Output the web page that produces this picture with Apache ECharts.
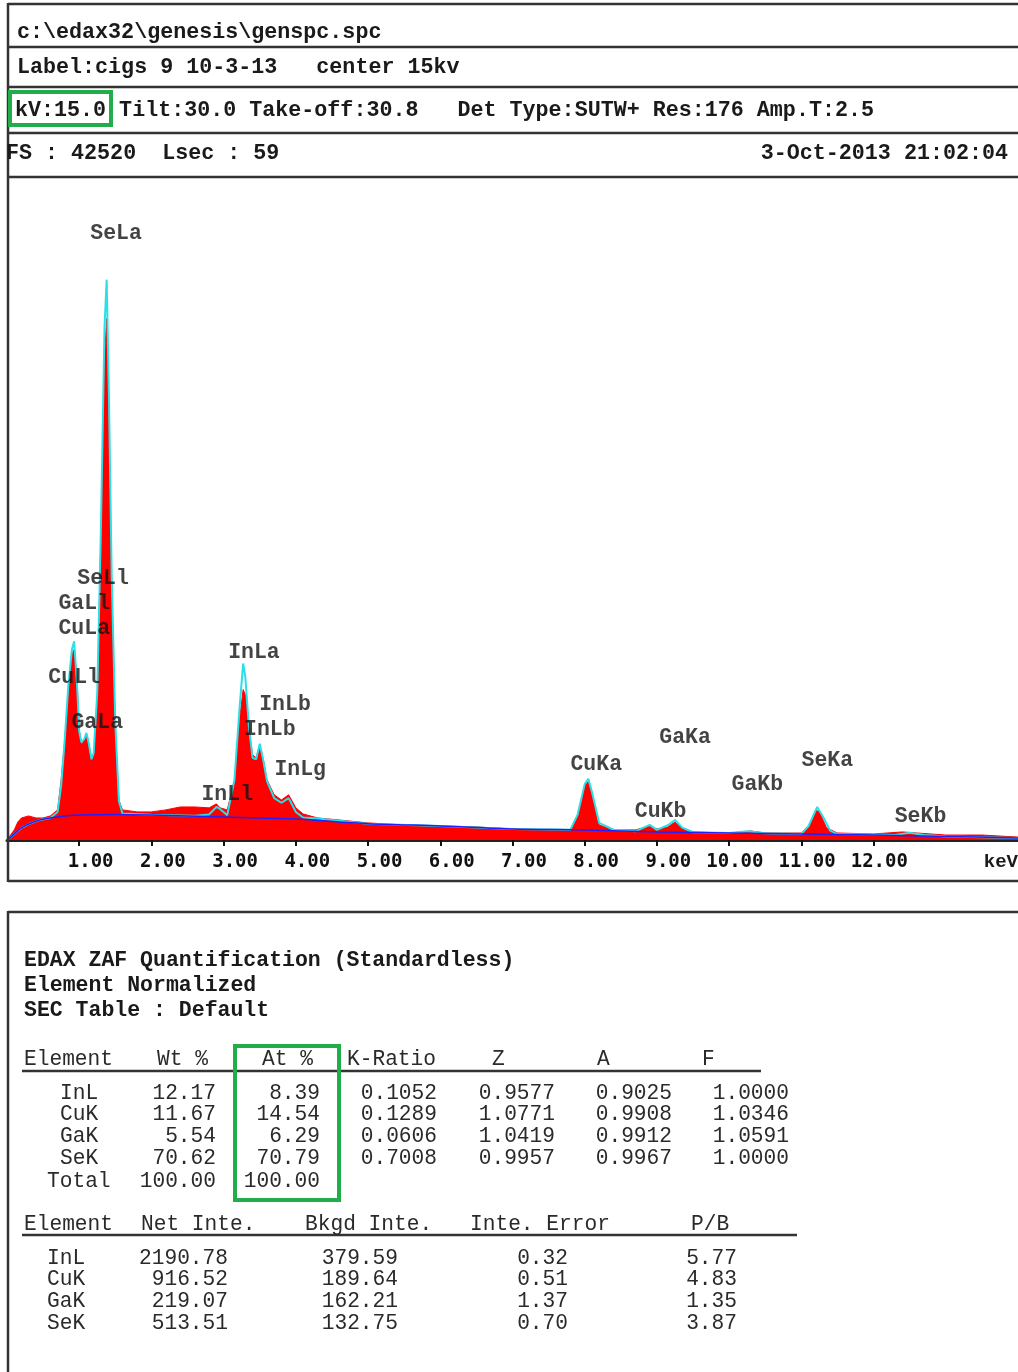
<!DOCTYPE html>
<html><head><meta charset="utf-8">
<script src="https://cdn.jsdelivr.net/npm/echarts@6/dist/echarts.min.js"></script>
<style>html,body{margin:0;padding:0;background:#fff}#c{width:1018px;height:1372px}</style>
</head><body><div id="c"></div>
<script>
// ---------- DATA ----------
const headerLines = [
  'c:\\edax32\\genesis\\genspc.spc',
  'Label:cigs 9 10-3-13   center 15kv',
  'kV:15.0 Tilt:30.0 Take-off:30.8   Det Type:SUTW+ Res:176 Amp.T:2.5',
  'FS : 42520  Lsec : 59'
];
const headerDate = '3-Oct-2013 21:02:04';
const fullScale = 42520;

const spectrumKeV = [0,0.1,0.15,0.2,0.3,0.4,0.5,0.6,0.7,0.75,0.8,0.85,0.9,0.93,0.97,1.0,1.03,1.07,1.1,1.13,1.17,1.2,1.25,1.3,1.35,1.38,1.41,1.45,1.5,1.55,1.6,1.8,2.0,2.2,2.4,2.6,2.8,2.9,2.95,3.05,3.15,3.22,3.27,3.3,3.35,3.4,3.45,3.5,3.55,3.6,3.7,3.8,3.9,4.0,4.1,4.3,4.6,5.0,5.5,6.0,6.5,7.0,7.5,7.8,7.9,8.0,8.05,8.1,8.2,8.4,8.7,8.9,9.0,9.15,9.25,9.35,9.5,10.0,10.3,10.5,11.0,11.1,11.2,11.25,11.35,11.5,12.0,12.4,12.6,13.0,13.5,14.0];
const spectrumCounts = [0,650,1160,1420,1550,1420,1420,1550,1940,3880,6460,9690,11950,12270,10340,7110,6140,6460,6780,6140,5300,5490,9040,19380,31010,33590,27130,16150,7110,2580,1940,1810,1810,1940,2130,2130,2070,2330,2070,1940,3880,7750,9690,9370,7110,5490,5300,6140,5170,3880,2910,2580,2910,2070,1680,1420,1290,1100,970,900,840,710,650,650,1620,3550,3750,2910,970,650,650,900,710,840,1160,780,520,450,580,450,450,900,1940,1810,780,450,390,520,450,320,320,190];

const fitKeV = [0,0.1,0.2,0.3,0.45,0.6,0.7,0.75,0.8,0.85,0.9,0.93,0.97,1.0,1.03,1.07,1.1,1.13,1.17,1.2,1.25,1.3,1.35,1.38,1.41,1.45,1.5,1.55,1.6,2.0,2.6,2.8,2.9,2.95,3.05,3.15,3.22,3.27,3.3,3.35,3.4,3.45,3.5,3.55,3.6,3.7,3.8,3.9,4.0,4.1,4.3,5.0,6.0,7.0,7.8,7.9,8.0,8.05,8.1,8.2,8.4,8.7,8.9,9.0,9.15,9.25,9.35,9.5,10.0,10.26,10.5,11.0,11.1,11.22,11.3,11.4,11.5,12.3,12.5,12.7,13.0,14.0];
const fitCounts = [0,390,775,1030,1290,1420,1800,3500,6500,10000,12300,12800,10000,7000,6300,6500,6900,6300,5200,5600,9500,20000,33000,36100,29000,17000,7500,2500,1700,1620,1560,1650,2130,2000,1600,3900,8500,11370,10500,7300,5300,5200,6200,5100,3800,2700,2400,2700,1800,1450,1380,1050,905,710,660,1600,3600,3940,3100,1100,660,560,970,650,950,1290,800,500,450,560,430,390,900,2130,1500,600,380,330,470,320,230,130];

const bgKeV = [0,0.1,0.2,0.3,0.45,0.6,0.8,1.0,1.5,2.0,2.5,3.0,3.5,4.0,5.0,6.0,7.0,8.0,9.0,10.0,11.0,12.0,13.0,14.0];
const bgCounts = [0,390,775,1030,1290,1420,1550,1615,1650,1615,1550,1485,1420,1355,1050,905,710,650,520,450,390,320,230,130];

const peakNames = ['SeLa','SeLl','GaLl','CuLa','CuLl','GaLa','InLa','InLb','InLb','InLg','InLl','CuKa','GaKa','CuKb','GaKb','SeKa','SeKb'];
const peakLabelKeV = [1.51,1.33,1.07,1.07,0.93,1.25,3.42,3.85,3.64,4.06,3.05,8.16,9.39,9.05,10.39,11.36,12.65];
const peakLabelCounts = [39080,16860,15240,13620,10470,7560,12080,8720,7110,4520,2910,4850,6590,1810,3550,5100,1490];

const tickValues = [1,2,3,4,5,6,7,8,9,10,11,12];
const axisUnit = 'keV';

const quantTitle = ['EDAX ZAF Quantification (Standardless)','Element Normalized','SEC Table : Default'];
const table1Header = ['Element','Wt %','At %','K-Ratio','Z','A','F'];
const elements = ['InL','CuK','GaK','SeK'];
const wtPct = ['12.17','11.67','5.54','70.62'];
const atPct = ['8.39','14.54','6.29','70.79'];
const totalLabel = 'Total';
const wtTotal = '100.00';
const atTotal = '100.00';
const kRatio = ['0.1052','0.1289','0.0606','0.7008'];
const zFactor = ['0.9577','1.0771','1.0419','0.9957'];
const aFactor = ['0.9025','0.9908','0.9912','0.9967'];
const fFactor = ['1.0000','1.0346','1.0591','1.0000'];
const table2Header = ['Element','Net Inte.','Bkgd Inte.','Inte. Error','P/B'];
const netInte = ['2190.78','916.52','219.07','513.51'];
const bkgdInte = ['379.59','189.64','162.21','132.75'];
const inteError = ['0.32','0.51','1.37','0.70'];
const pbRatio = ['5.77','4.83','1.35','3.87'];

// ---------- BUILD ----------
const MONO = '"Liberation Mono", "DejaVu Sans Mono", monospace';
const LINE = '#333';
const GREEN = '#22ad4b';
const zip = (a, b) => a.map((v, i) => [v, b[i]]);

const g = [];
function hline(x1, x2, y, w) { g.push({type:'line', shape:{x1, y1:y, x2, y2:y}, style:{stroke:LINE, lineWidth:w||2.5}, z:50}); }
function vline(x, y1, y2, w) { g.push({type:'line', shape:{x1:x, y1, x2:x, y2}, style:{stroke:LINE, lineWidth:w||2.5}, z:50}); }
function txt(s, x, y, opt) {
  opt = opt || {};
  g.push({type:'text', x, y, z:60, style:{
    text:s, fill:opt.fill||'#1a1a1a',
    font:(opt.bold?'bold ':'') + (opt.size||21) + 'px ' + MONO,
    textAlign:opt.align||'left', align:opt.align||'left',
    textVerticalAlign:'middle', verticalAlign:'middle'
  }});
}

// header box
hline(8, 1018, 4); hline(8, 1018, 47); hline(8, 1018, 87); hline(8, 1018, 133); hline(8, 1018, 177);
hline(8, 1018, 881);
vline(8, 3, 882);
const H = {bold:true, size:21.7};
txt(headerLines[0], 17, 33, H);
txt(headerLines[1], 17, 68, H);
txt(headerLines[2], 15, 111, H);
txt(headerLines[3], 6, 154, H);
txt(headerDate, 1008, 154, Object.assign({align:'right'}, H));
g.push({type:'rect', shape:{x:10, y:92, width:101, height:33}, style:{fill:'none', stroke:GREEN, lineWidth:4}, z:70});
txt(axisUnit, 1018, 862, {bold:true, size:19, align:'right'});

// lower box
hline(8, 1018, 912); vline(8, 911, 1372);
const Q = {bold:true, size:21.5};
txt(quantTitle[0], 24, 961, Q);
txt(quantTitle[1], 24, 986, Q);
txt(quantTitle[2], 24, 1011, Q);

const T1 = {fill:'#2a2a2a', size:21.2};
const R = Object.assign({align:'right'}, T1);
const t1x = [24, 157, 262, 347, 492, 597, 702];
table1Header.forEach((h, i) => txt(h, t1x[i], 1059, T1));
hline(22, 761, 1071, 2.5);
const rowsY1 = [1093, 1114, 1136, 1158];
elements.forEach((e, i) => {
  const y = rowsY1[i];
  txt(e, 60, y, T1);
  txt(wtPct[i], 216, y, R);
  txt(atPct[i], 320, y, R);
  txt(kRatio[i], 437, y, R);
  txt(zFactor[i], 555, y, R);
  txt(aFactor[i], 672, y, R);
  txt(fFactor[i], 789, y, R);
});
txt(totalLabel, 47, 1181, T1);
txt(wtTotal, 216, 1181, R);
txt(atTotal, 320, 1181, R);
g.push({type:'rect', shape:{x:235, y:1046, width:104, height:154}, style:{fill:'none', stroke:GREEN, lineWidth:4}, z:70});

const t2x = [24, 141, 305, 470, 691];
table2Header.forEach((h, i) => txt(h, t2x[i], 1224, T1));
hline(22, 797, 1235, 2.5);
const rowsY2 = [1258, 1279, 1301, 1323];
elements.forEach((e, i) => {
  const y = rowsY2[i];
  txt(e, 47, y, T1);
  txt(netInte[i], 228, y, R);
  txt(bkgdInte[i], 398, y, R);
  txt(inteError[i], 568, y, R);
  txt(pbRatio[i], 737, y, R);
});

const xCommon = {type:'value', min:0, max:14, interval:1, splitLine:{show:false}};
const option = {
  animation:false,
  backgroundColor:'#fff',
  grid:{left:7, top:180, width:1012, height:660},
  xAxis:[
    Object.assign({}, xCommon, {
      position:'bottom',
      axisLine:{show:true, lineStyle:{color:'#222', width:3}},
      axisTick:{show:true, inside:false, length:6, lineStyle:{color:'#111', width:2}, customValues:tickValues},
      axisLabel:{show:true, customValues:tickValues, margin:13, color:'#111',
        fontFamily:'"DejaVu Sans Mono", monospace', fontWeight:'bold', fontSize:19,
        formatter:v => (v < 10 ? '  ' : ' ') + v.toFixed(2)}
    }),
    Object.assign({}, xCommon, {
      position:'bottom', offset:0,
      axisLine:{show:false},
      axisTick:{show:true, inside:true, length:5, lineStyle:{color:'#111', width:2}, customValues:tickValues},
      axisLabel:{show:false}
    })
  ],
  yAxis:{type:'value', min:0, max:fullScale, show:false},
  series:[
    {type:'line', name:'spectrum', data:zip(spectrumKeV, spectrumCounts), showSymbol:false, silent:true,
      lineStyle:{color:'#ff0000', width:1}, areaStyle:{color:'#ff0000', opacity:1}, z:1},
    {type:'line', name:'fit', data:zip(fitKeV, fitCounts), showSymbol:false, silent:true,
      lineStyle:{color:'#28e0e6', width:2}, z:2},
    {type:'line', name:'background', data:zip(bgKeV, bgCounts), showSymbol:false, silent:true, smooth:0.3,
      lineStyle:{color:'#2020ff', width:1.5}, z:3},
    {type:'scatter', name:'peaks', symbolSize:0, silent:true, z:5,
      data:peakLabelKeV.map((k, i) => ({value:[k, peakLabelCounts[i]], name:peakNames[i]})),
      label:{show:true, position:'inside', formatter:p => p.name, color:'#141414',
        fontFamily:MONO, fontWeight:'bold', fontSize:21.5}}
  ],
  graphic:{elements:g}
};
const chart = echarts.init(document.getElementById('c'), null, {renderer:'canvas'});
chart.setOption(option);
</script></body></html>
